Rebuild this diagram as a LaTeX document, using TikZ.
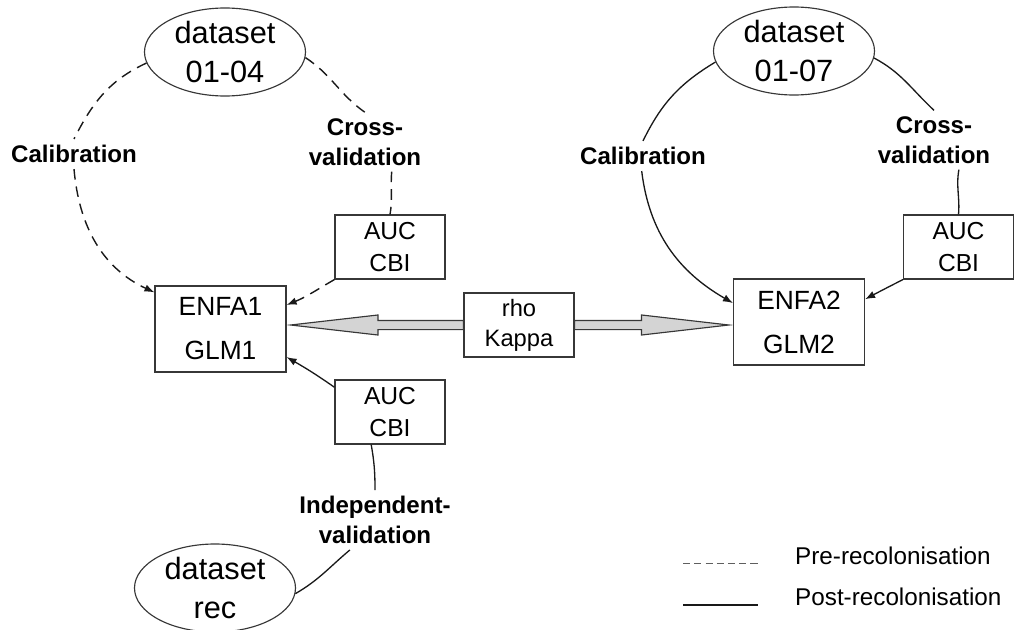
\documentclass[tikz,border=0pt]{standalone}
\usepackage{fontspec}
\setmainfont{Liberation Sans}
\usepackage{tikz}
\usetikzlibrary{
  arrows.meta,
  positioning,
  calc,
  shapes.geometric
}
\definecolor{LineGray}{RGB}{25,25,25}
\definecolor{BoxGray}{RGB}{55,55,55}
\definecolor{ShaftGray}{RGB}{212,212,212}
\definecolor{LegendGray}{RGB}{95,95,95}
\tikzset{
  datanode/.style={ellipse,draw=BoxGray,line width=0.65pt,minimum width=32.2mm,minimum height=17.6mm,inner sep=0pt,align=center,font=\fontsize{17.5}{22.5}\selectfont},
  modelnode/.style={draw=BoxGray,line width=0.65pt,minimum width=26.2mm,minimum height=17.2mm,align=center,font=\fontsize{15}{25}\selectfont},
  metricnode/.style={draw=BoxGray,line width=0.65pt,minimum width=22mm,minimum height=12.8mm,align=center,font=\fontsize{14}{18.7}\selectfont},
  indexnode/.style={metricnode,font=\fontsize{13.5}{17}\selectfont},
  steplabel/.style={align=center,font=\fontsize{13.7}{17}\selectfont\bfseries},
  legendtext/.style={anchor=west,font=\fontsize{13.8}{17}\selectfont},
  prelink/.style={draw=LineGray,line width=0.8pt,dash pattern=on 6pt off 4pt},
  postlink/.style={draw=LineGray,line width=0.75pt},
  prearrow/.style={prelink,-{Latex[length=2mm,width=1.5mm]}},
  postarrow/.style={postlink,-{Latex[length=2mm,width=1.5mm]}},
  bigarrow/.style={draw=BoxGray,fill=ShaftGray,line width=0.65pt,
    to path={let \p1=(\tikztostart), \p2=(\tikztotarget), \n1={sign(\x2-\x1)} in
      ({\x1},{\y1+2.6pt}) -- ({\x2-(\n1)*52pt},{\y1+2.6pt}) -- ({\x2-(\n1)*52pt},{\y1+5.7pt})
      -- ({\x2-(\n1)*2.3pt},{\y1}) -- ({\x2-(\n1)*52pt},{\y1-5.7pt})
      -- ({\x2-(\n1)*52pt},{\y1-2.6pt}) -- ({\x1},{\y1-2.6pt}) -- cycle}}
}

\begin{document}
\begin{tikzpicture}[x=0.2mm,y=0.2mm]
\useasboundingbox (0,0) rectangle (1017,-630);
% datasets
\node[datanode] (ds1) at (225,-52) {dataset\\01-04};
\node[datanode] (ds2) at (794,-51) {dataset\\01-07};
\node[datanode] (ds3) at (215,-588) {dataset\\rec};
% models and indices
\node[modelnode] (enfa1) at (220.5,-329) {ENFA1\\GLM1};
\node[modelnode] (enfa2) at (799,-322) {ENFA2\\GLM2};
\node[metricnode] (auc1) at (390,-247) {AUC\\CBI};
\node[metricnode] (auc2) at (958.5,-247) {AUC\\CBI};
\node[metricnode] (auc3) at (390,-412) {AUC\\CBI};
\node[indexnode] (rho) at (519,-325) {rho\\Kappa};
% step labels
\node[steplabel] (cal1) at (74,-154) {Calibration};
\node[steplabel] (cv1) at (365,-142) {Cross-\\validation};
\node[steplabel] (cal2) at (643,-156) {Calibration};
\node[steplabel] (cv2) at (934,-140) {Cross-\\validation};
\node[steplabel] (iv) at (375,-520) {Independent-\\validation};
% pre-recolonisation
\draw[prelink] (ds1.188) to[out=205,in=63] (cal1.north);
\draw[prearrow] (cal1.south) to[out=275,in=155] (enfa1.151);
\draw[prelink] (ds1.356) to[out=-33,in=145] (cv1.north);
\draw[prelink] (cv1.-48) to[out=265,in=80] (auc1.north);
\draw[prearrow] (auc1.south west) to[out=210,in=22] (enfa1.20);
% post-recolonisation
\draw[postlink] (ds2.188) to[out=211,in=64] (cal2.north);
\draw[postarrow] (cal2.265) to[out=277,in=150] (enfa2.164);
\draw[postlink] (ds2.355) to[out=-28,in=137] (cv2.north);
\draw[postlink] (cv2.-50) to[out=260,in=85] (auc2.north);
\draw[postarrow] (auc2.south west) to[out=207,in=28] (enfa2.19);
% independent validation
\draw[postlink] (ds3.356) to[out=30,in=220] (iv.230);
\draw[postlink] (iv.north) to[out=90,in=280] (auc3.240);
\draw[postarrow] (auc3.156) to[out=145,in=-30] (enfa1.-23);
% comparison
\draw[bigarrow] (rho.west) to (enfa1.east);
\draw[bigarrow] (rho.east) to (enfa2.west);
% legend
\coordinate (preA) at (683,-563);
\coordinate (preB) at (758,-563);
\coordinate (postA) at (683,-605);
\coordinate (postB) at (758,-605);
\draw[draw=LegendGray,line width=0.5pt,dash pattern=on 4pt off 2.4pt] (preA) -- (preB);
\draw[draw=LineGray,line width=0.7pt] (postA) -- (postB);
\node[legendtext] (prelbl) at (789,-556) {Pre-recolonisation};
\node[legendtext] (postlbl) at (789,-597) {Post-recolonisation};
\end{tikzpicture}
\end{document}
